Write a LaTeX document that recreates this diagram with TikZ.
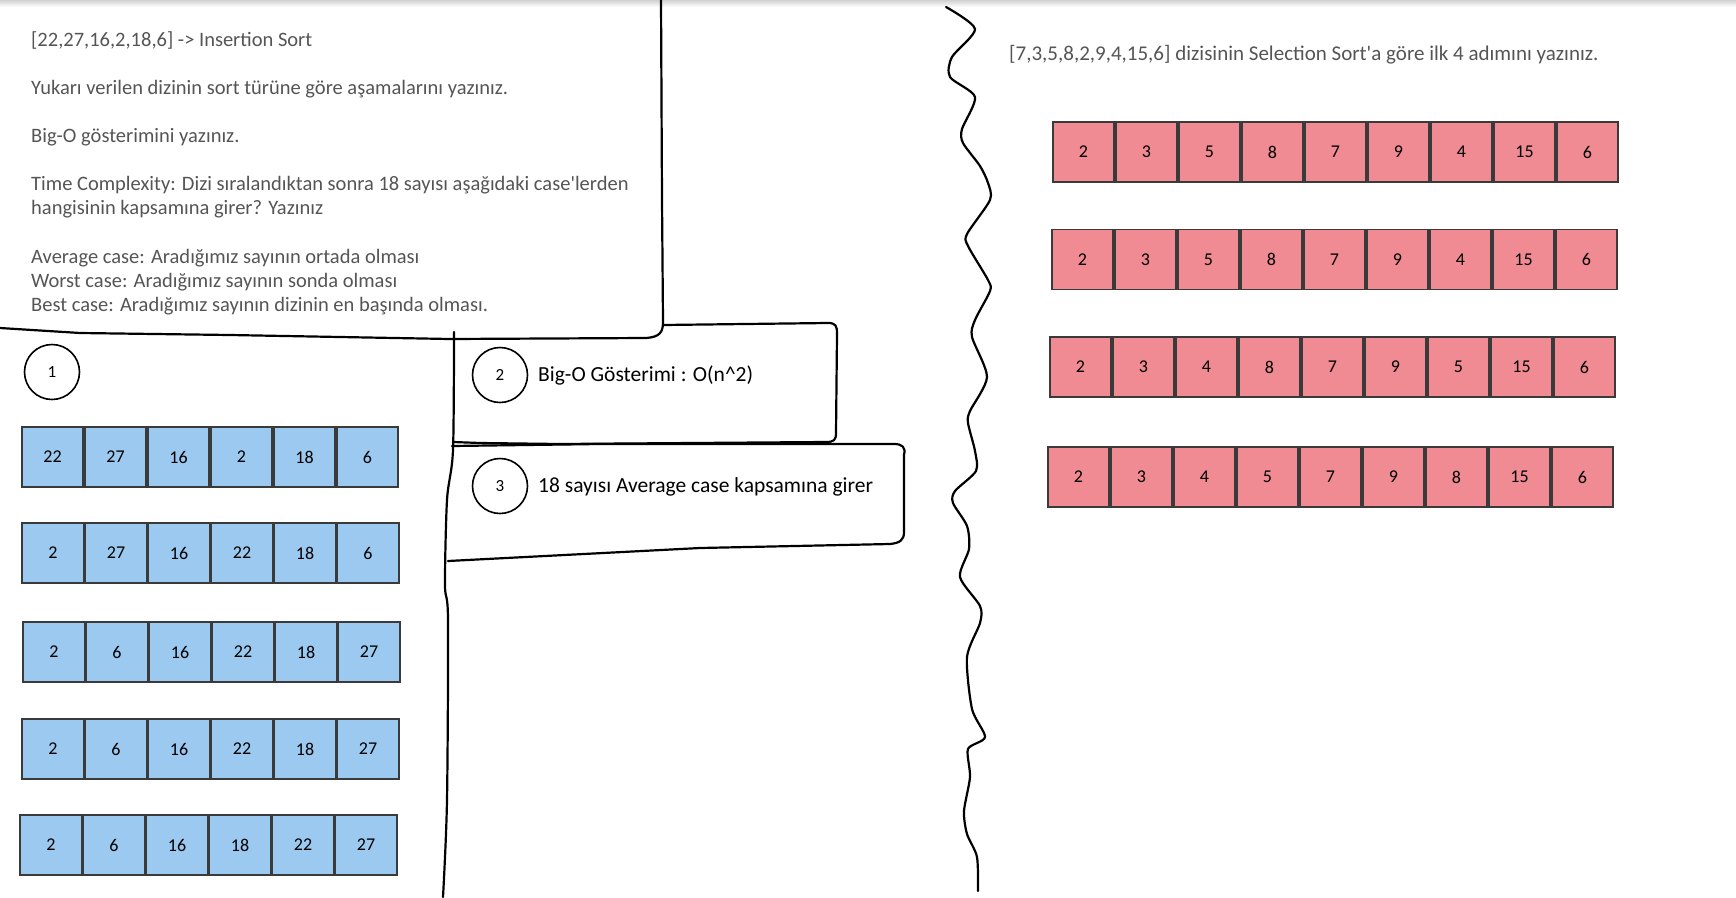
\documentclass[tikz,border=0pt]{standalone}
\usepackage{fontspec}
\setmainfont{Carlito}[Ligatures=TeXOff]
\definecolor{cellblue}{HTML}{9BC9EF}
\definecolor{cellpink}{HTML}{F08A93}
\definecolor{cellline}{HTML}{3A3A3A}
\definecolor{notegray}{HTML}{555555}
\tikzset{
  handline/.style={line width=2.2pt, black, line cap=round, line join=round},
  cellbase/.style={draw=cellline, line width=1.6pt, minimum width=61.5pt, minimum height=60pt, inner sep=0pt, font=\fontsize{18}{20}\selectfont},
  bluecell/.style={cellbase, fill=cellblue},
  pinkcell/.style={cellbase, fill=cellpink},
  numcirc/.style={circle, draw=black, line width=1.6pt, minimum size=55pt, inner sep=0pt, font=\fontsize{17}{19}\selectfont},
  notetext/.style={anchor=west, inner sep=0pt, text=notegray, font=\fontsize{20.5}{24}\selectfont},
  sidetext/.style={notetext, font=\fontsize{21}{24}\selectfont},
  answertext/.style={anchor=west, inner sep=0pt, text=black, font=\fontsize{21.5}{25}\selectfont}
}
\begin{document}
\begin{tikzpicture}[x=1pt,y=-1pt]
\useasboundingbox (0,0) rectangle (1736,897);
\fill[white] (0,0) rectangle (1736,897);
\shade[top color=black!18, bottom color=white] (0,0) rectangle (1736,7);

% top-left question box
\draw[handline] (0,328) -- (80,333) -- (230,335) -- (450,339) -- (646,338)
  .. controls (660,337) and (663,332) .. (663,322) -- (662,200) -- (661,0);
% box 2
\draw[handline] (663,325) -- (828,323) .. controls (836,323) and (837,326) .. (837,334)
  -- (836,433) .. controls (836,440) and (834,442) .. (826,442) -- (560,444) -- (480,443) -- (453,442);
% box 3
\draw[handline] (452,446) -- (600,444) -- (894,444) .. controls (902,444) and (906,447) .. (904,455)
  -- (904,532) .. controls (904,540) and (900,543) .. (890,544) -- (700,548) -- (448,561);
% vertical separator
\draw[handline] plot[smooth, tension=0.5] coordinates {(454,332) (453,450) (447,500) (445,585) (448,620) (447,800) (443,897)};
% wavy divider
\draw[handline] plot[smooth, tension=0.45] coordinates {
 (946,7) (975,29) (952,57) (950,77) (975,97) (962,129) (963,143) (980,166) (988,183) (990,200)
 (967,234) (968,246) (988,280) (990,291) (975,320) (972,337) (987,377) (970,411) (968,423)
 (975,451) (976,471) (955,491) (953,503) (967,526) (969,549) (960,577) (980,606) (980,623)
 (967,657) (972,709) (985,737) (968,749) (970,777) (964,811) (967,834) (977,857) (978,891)};

% question texts
\node[notetext] (q1) at (31,40) {[22,27,16,2,18,6] -> Insertion Sort};
\node[notetext] (q2) at (31,89) {Yukarı verilen dizinin sort türüne göre aşamalarını yazınız.};
\node[notetext] (q3) at (31,137) {Big-O gösterimini yazınız.};
\node[notetext] (q4) at (31,185) {Time Complexity: Dizi sıralandıktan sonra 18 sayısı aşağıdaki case'lerden};
\node[notetext] (q5) at (31,209) {hangisinin kapsamına girer? Yazınız};
\node[notetext] (q6) at (31,258) {Average case: Aradığımız sayının ortada olması};
\node[notetext] (q7) at (31,282) {Worst case: Aradığımız sayının sonda olması};
\node[notetext] (q8) at (31,306) {Best case: Aradığımız sayının dizinin en başında olması.};
\node[sidetext] (qs) at (1009,55) {[7,3,5,8,2,9,4,15,6] dizisinin Selection Sort'a göre ilk 4 adımını yazınız.};

% numbered circles and answers
\node[numcirc] (c1) at (52,372) {1};
\node[numcirc] (c2) at (500,375) {2};
\node[numcirc] (c3) at (500,486) {3};
\node[answertext] (a2) at (538,375) {Big-O Gösterimi : O(n\textasciicircum 2)};
\node[answertext] (a3) at (538,487) {18 sayısı Average case kapsamına girer};

% insertion sort rows (blue)
\foreach \v [count=\i] in {22,27,16,2,18,6}
  \node[bluecell] (ba\i) at ({52.5+63*(\i-1)},457) {\v};
\foreach \v [count=\i] in {2,27,16,22,18,6}
  \node[bluecell] (bb\i) at ({53+63*(\i-1)},553) {\v};
\foreach \v [count=\i] in {2,6,16,22,18,27}
  \node[bluecell] (bc\i) at ({54+63*(\i-1)},652) {\v};
\foreach \v [count=\i] in {2,6,16,22,18,27}
  \node[bluecell] (bd\i) at ({53+63*(\i-1)},749) {\v};
\foreach \v [count=\i] in {2,6,16,18,22,27}
  \node[bluecell] (be\i) at ({51+63*(\i-1)},845) {\v};

% selection sort rows (pink)
\foreach \v [count=\i] in {2,3,5,8,7,9,4,15,6}
  \node[pinkcell] (pa\i) at ({1083.5+63*(\i-1)},152) {\v};
\foreach \v [count=\i] in {2,3,5,8,7,9,4,15,6}
  \node[pinkcell] (pb\i) at ({1082.5+63*(\i-1)},259.5) {\v};
\foreach \v [count=\i] in {2,3,4,8,7,9,5,15,6}
  \node[pinkcell] (pc\i) at ({1080.5+63*(\i-1)},367) {\v};
\foreach \v [count=\i] in {2,3,4,5,7,9,8,15,6}
  \node[pinkcell] (pd\i) at ({1078.5+63*(\i-1)},477) {\v};
\end{tikzpicture}
\end{document}
